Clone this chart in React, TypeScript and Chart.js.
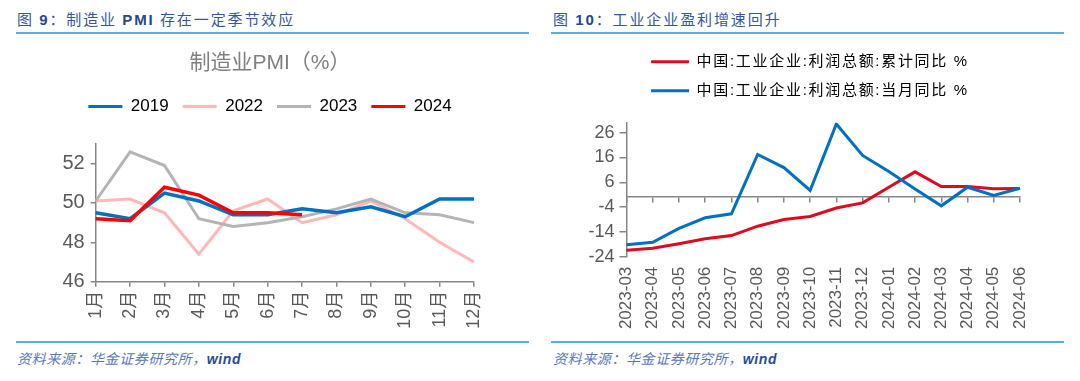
import React, { useEffect, useRef } from 'react';
import { Chart, registerables } from 'chart.js';

Chart.register(...registerables);

// ---------- data ----------
const pmiMonths = ['1月', '2月', '3月', '4月', '5月', '6月', '7月', '8月', '9月', '10月', '11月', '12月'];
const pmi2019 = [49.5, 49.2, 50.5, 50.1, 49.4, 49.4, 49.7, 49.5, 49.8, 49.3, 50.2, 50.2];
const pmi2022 = [50.1, 50.2, 49.5, 47.4, 49.6, 50.2, 49.0, 49.4, 50.1, 49.2, 48.0, 47.0];
const pmi2023 = [50.1, 52.6, 51.9, 49.2, 48.8, 49.0, 49.3, 49.7, 50.2, 49.5, 49.4, 49.0];
const pmi2024 = [49.2, 49.1, 50.8, 50.4, 49.5, 49.5, 49.4];
const pmiTicks = [46, 48, 50, 52];

const profitMonths = [
  '2023-03', '2023-04', '2023-05', '2023-06', '2023-07', '2023-08', '2023-09', '2023-10',
  '2023-11', '2023-12', '2024-01', '2024-02', '2024-03', '2024-04', '2024-05', '2024-06',
];
const profitCumulative = [-21.4, -20.6, -18.8, -16.8, -15.5, -11.7, -9.0, -7.8, -4.4, -2.3, 4.0, 10.2, 4.3, 4.3, 3.4, 3.5];
const profitMonthly = [-19.2, -18.2, -12.6, -8.3, -6.7, 17.2, 11.9, 2.7, 29.5, 16.8, 10.3, 3.3, -3.5, 4.0, 0.7, 3.6];
const profitTicks = [-24, -14, -4, 6, 16, 26];

// ---------- styles ----------
const FONT = '"Liberation Sans", "Noto Sans CJK SC", sans-serif';
const AXIS = '#868686';
const TICK = '#595959';

function lineLegendLabels(chart: any) {
  return chart.data.datasets.map((ds: any, i: number) => ({
    text: ds.label,
    fillStyle: ds.borderColor,
    strokeStyle: ds.borderColor,
    lineWidth: 0,
    hidden: false,
    datasetIndex: i,
  }));
}

// letter spacing for legend text only (measure + draw)
function legendSpacing(spacing: string) {
  return {
    id: 'legendSpacing',
    beforeLayout(chart: any) {
      const lg = chart.legend;
      if (!lg || lg.__spaced) return;
      lg.__spaced = true;
      const fit = lg.fit.bind(lg);
      const draw = lg.draw.bind(lg);
      const wrap = (fn: any) => (...a: any[]) => {
        const c: any = chart.ctx;
        const prev = c.letterSpacing;
        c.letterSpacing = spacing;
        try { fn(...a); } finally { c.letterSpacing = prev || '0px'; }
      };
      lg.fit = wrap(fit);
      lg.draw = wrap(draw);
    },
  };
}

const dummyRight = (w: number) => ({
  type: 'linear',
  position: 'right',
  display: true,
  grid: { display: false, drawTicks: false },
  border: { display: false },
  ticks: { display: false },
  afterFit: (s: any) => { s.width = w; },
});

function pmiConfig(): any {
  return {
    type: 'line',
    data: {
      labels: pmiMonths,
      datasets: [
        { label: '2019', data: pmi2019, borderColor: '#0070C0', backgroundColor: '#0070C0', borderWidth: 3.5, order: 1 },
        { label: '2022', data: pmi2022, borderColor: '#FFB7B7', backgroundColor: '#FFB7B7', borderWidth: 3, order: 3 },
        { label: '2023', data: pmi2023, borderColor: '#B4B4B4', backgroundColor: '#B4B4B4', borderWidth: 3, order: 2 },
        { label: '2024', data: pmi2024, borderColor: '#FF0000', backgroundColor: '#FF0000', borderWidth: 3.5, order: 0 },
      ],
    },
    options: {
      animation: false,
      responsive: false,
      events: [],
      elements: { point: { radius: 0 }, line: { tension: 0 } },
      layout: { padding: { top: 0, left: 0, right: 0, bottom: 8.3 } },
      plugins: {
        tooltip: { enabled: false },
        title: {
          display: true,
          text: '制造业PMI（%）',
          color: '#7F7F7F',
          font: { size: 21, family: FONT, weight: 'normal', lineHeight: 1.2 },
          padding: { top: 14.7, bottom: 8.2 },
          weight: 2000,
        },
        legend: {
          display: true,
          position: 'top',
          weight: 1600,
          labels: {
            boxWidth: 34,
            boxHeight: 3,
            padding: 14,
            color: TICK,
            font: { size: 17, family: FONT },
            generateLabels: lineLegendLabels,
          },
        },
        subtitle: {
          display: true,
          text: '',
          font: { size: 1, lineHeight: 1 },
          padding: { top: 17.8, bottom: 0 },
          weight: 1500,
        },
      },
      scales: {
        x: {
          grid: { display: true, drawOnChartArea: false, drawTicks: true, tickLength: 5, color: AXIS, lineWidth: 1.5 },
          border: { display: true, color: AXIS, width: 1.5 },
          ticks: { color: TICK, font: { size: 18, family: FONT }, minRotation: 90, maxRotation: 90, padding: 4, autoSkip: false },
          afterFit: (s: any) => { s.height = 50; },
        },
        y: {
          min: 46,
          max: 53,
          afterBuildTicks: (s: any) => { s.ticks = pmiTicks.map((v) => ({ value: v })); },
          grid: { display: true, drawOnChartArea: false, drawTicks: true, tickLength: 5, color: AXIS, lineWidth: 1.5 },
          border: { display: true, color: AXIS, width: 1.5 },
          ticks: { color: TICK, font: { size: 20, family: FONT }, padding: 6 },
          afterFit: (s: any) => { s.width = 95.7; },
        },
        yr: dummyRight(66),
      },
    },
  };
}

function profitConfig(): any {
  return {
    type: 'line',
    data: {
      labels: profitMonths,
      datasets: [
        { label: '中国:工业企业:利润总额:累计同比 %', data: profitCumulative, borderColor: '#DE0B20', backgroundColor: '#DE0B20', borderWidth: 3, order: 1 },
        { label: '中国:工业企业:利润总额:当月同比 %', data: profitMonthly, borderColor: '#0070C0', backgroundColor: '#0070C0', borderWidth: 3, order: 0 },
      ],
    },
    plugins: [legendSpacing('1.7px')],
    options: {
      animation: false,
      responsive: false,
      events: [],
      elements: { point: { radius: 0 }, line: { tension: 0 } },
      layout: { padding: { top: 4.2, left: 0, right: 0, bottom: 7.3 } },
      plugins: {
        tooltip: { enabled: false },
        title: { display: false },
        legend: {
          display: true,
          position: 'top',
          weight: 1000,
          labels: {
            boxWidth: 38,
            boxHeight: 3,
            padding: 14,
            color: '#7F7F7F',
            font: { size: 15, family: FONT },
            generateLabels: lineLegendLabels,
          },
        },
        subtitle: {
          display: true,
          text: '',
          font: { size: 1, lineHeight: 1 },
          padding: { top: 13.5, bottom: 0 },
          weight: 500,
        },
      },
      scales: {
        x: {
          position: 'bottom',
          grid: { display: false, drawTicks: false },
          border: { display: false },
          ticks: { color: TICK, font: { size: 17, family: FONT }, minRotation: 90, maxRotation: 90, padding: 10, autoSkip: false },
          afterFit: (s: any) => { s.height = 76; },
        },
        x2: {
          type: 'category',
          position: { y: 0 },
          grid: { display: true, drawOnChartArea: false, drawTicks: true, tickLength: 5, color: AXIS, lineWidth: 1.5 },
          border: { display: true, color: AXIS, width: 1.5 },
          ticks: { display: false },
        },
        y: {
          min: -24,
          max: 30,
          afterBuildTicks: (s: any) => { s.ticks = profitTicks.map((v) => ({ value: v })); },
          grid: { display: true, drawOnChartArea: false, drawTicks: true, tickLength: 7, color: AXIS, lineWidth: 1.5 },
          border: { display: true, color: AXIS, width: 1.5 },
          ticks: { color: TICK, font: { size: 18, family: FONT }, padding: 5 },
          afterFit: (s: any) => { s.width = 86.5; },
        },
        yr: dummyRight(60),
      },
    },
  };
}

function ChartCanvas(props: { make: () => any; left: number; top: number; width: number; height: number }) {
  const ref = useRef<HTMLCanvasElement>(null);
  useEffect(() => {
    const chart = new Chart(ref.current as HTMLCanvasElement, props.make());
    return () => chart.destroy();
  }, []);
  return (
    <canvas
      ref={ref}
      width={props.width}
      height={props.height}
      style={{ position: 'absolute', left: props.left, top: props.top, width: props.width, height: props.height }}
    />
  );
}

const headStyle: React.CSSProperties = {
  position: 'absolute',
  top: 10,
  height: 18,
  lineHeight: '18px',
  fontSize: 15,
  letterSpacing: '1.9px',
  color: '#3357A0',
  fontFamily: '"Noto Sans CJK SC", sans-serif',
  whiteSpace: 'nowrap',
};
const latinBold: React.CSSProperties = { fontFamily: '"Liberation Sans", sans-serif', fontWeight: 'bold', color: '#24478F' };

const footStyle: React.CSSProperties = {
  position: 'absolute',
  top: 349,
  height: 18,
  lineHeight: '18px',
  fontSize: 14,
  letterSpacing: '0.6px',
  fontStyle: 'italic',
  color: '#5A78B8',
  fontFamily: '"Noto Sans CJK SC", sans-serif',
  whiteSpace: 'nowrap',
};

const rule = (left: number, top: number): React.CSSProperties => ({
  position: 'absolute',
  left,
  top,
  width: 513,
  height: 2,
  background: '#5FAAE0',
});

export default function App() {
  return (
    <div style={{ position: 'absolute', left: 0, top: 0, width: 1080, height: 381, background: '#fff', overflow: 'hidden' }}>
      <div style={{ ...headStyle, left: 17 }}>
        图 <span style={latinBold}>9</span>：制造业 <span style={latinBold}>PMI</span> 存在一定季节效应
      </div>
      <div style={{ ...headStyle, left: 553 }}>
        图 <span style={latinBold}>10</span>：工业企业盈利增速回升
      </div>
      <div style={rule(16, 31.5)} />
      <div style={rule(551, 31.5)} />

      <ChartCanvas make={pmiConfig} left={0} top={36} width={540} height={304} />
      <ChartCanvas make={profitConfig} left={540} top={36} width={540} height={304} />

      <div style={rule(16, 341)} />
      <div style={rule(551, 341)} />
      <div style={{ ...footStyle, left: 17 }}>
        资料来源：华金证券研究所，<span style={{ fontFamily: '"Liberation Sans", sans-serif', fontWeight: 'bold', color: '#2A4C98' }}>wind</span>
      </div>
      <div style={{ ...footStyle, left: 553 }}>
        资料来源：华金证券研究所，<span style={{ fontFamily: '"Liberation Sans", sans-serif', fontWeight: 'bold', color: '#2A4C98' }}>wind</span>
      </div>
    </div>
  );
}
